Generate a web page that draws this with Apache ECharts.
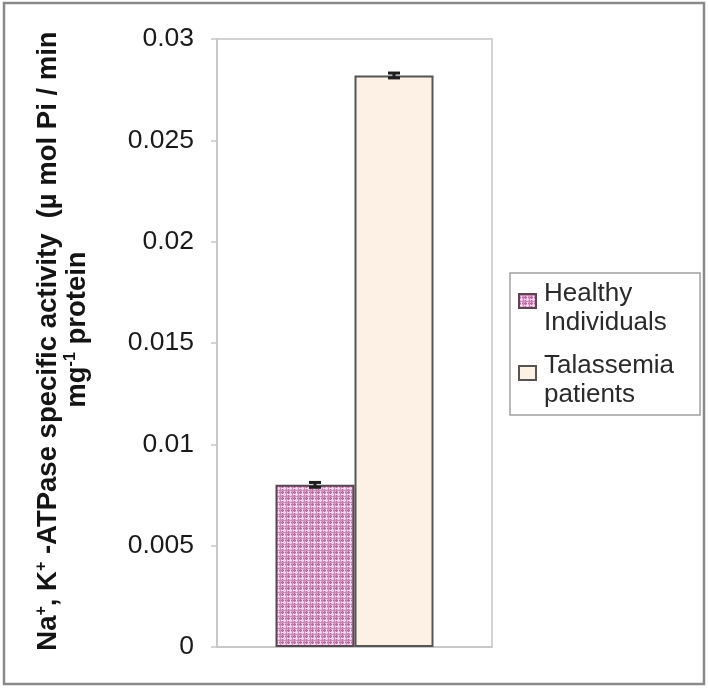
<!DOCTYPE html>
<html>
<head>
<meta charset="utf-8">
<script src="https://cdn.jsdelivr.net/npm/echarts@6/dist/echarts.min.js"></script>
<style>
html,body{margin:0;padding:0;background:#fff;}
#chart{width:708px;height:689px;}
</style>
</head>
<body>
<div id="chart"></div>
<script>
// ---- data ----
const categories = ['Na+, K+-ATPase'];
const seriesNames = ['Healthy Individuals', 'Talassemia patients'];
const healthyValues = [0.008];
const talassemiaValues = [0.0282];
const healthyErrors = [0.00012];
const talassemiaErrors = [0.00012];
const yMin = 0, yMax = 0.03, yInterval = 0.005;

// ---- styles ----
const BAR_W = 79;
const FONT = '"Liberation Sans", Arial, sans-serif';

function makePlaid() {
  const c = document.createElement('canvas');
  c.width = 6; c.height = 6;
  const g = c.getContext('2d');
  g.fillStyle = '#e2a6d0';
  g.fillRect(0, 0, 6, 6);
  g.fillStyle = '#b46c9c';
  g.fillRect(0, 0, 1, 6);
  g.fillRect(0, 0, 6, 1);
  g.fillStyle = '#f6d6ee';
  g.fillRect(2, 0, 1, 6);
  g.fillRect(0, 2, 6, 1);
  g.fillStyle = '#c98ab5';
  g.fillRect(4, 0, 1, 6);
  g.fillRect(0, 4, 6, 1);
  return c;
}
const plaid = { image: makePlaid(), repeat: 'repeat' };

const errData = [
  [0, healthyValues[0], healthyErrors[0], 0],
  [0, talassemiaValues[0], talassemiaErrors[0], 1]
];

const chart = echarts.init(document.getElementById('chart'), null, { renderer: 'canvas' });
chart.setOption({
  backgroundColor: '#ffffff',
  animation: false,
  graphic: [{
    type: 'rect',
    shape: { x: 4, y: 3, width: 700, height: 681 },
    style: { fill: 'none', stroke: '#8a8a8a', lineWidth: 2.5 },
    silent: true
  }],
  grid: {
    left: 217, top: 39, right: 216, bottom: 42,
    show: true, borderColor: '#d2d2d2', borderWidth: 2, backgroundColor: 'transparent'
  },
  legend: {
    data: seriesNames,
    orient: 'vertical',
    left: 510, top: 273,
    padding: [5, 26, 5, 8],
    borderColor: '#a0a0a0', borderWidth: 1.5,
    itemWidth: 17, itemHeight: 58, itemGap: 12,
    icon: 'path://M0,0 M17,58 M0,15 H17 V29 H0 Z',
    formatter: function (n) { return n.replace(' ', '\n'); },
    textStyle: { fontFamily: FONT, fontSize: 26, lineHeight: 29, color: '#2a2a2a', padding: [0, 0, 0, 3] },
    selectedMode: false
  },
  xAxis: {
    type: 'category',
    data: categories,
    axisLine: { show: true, lineStyle: { color: '#c8c8c8', width: 2 } },
    axisTick: { show: false },
    axisLabel: { show: false },
    splitLine: { show: false }
  },
  yAxis: {
    type: 'value',
    min: yMin, max: yMax, interval: yInterval,
    axisLine: { show: true, lineStyle: { color: '#c8c8c8', width: 2 } },
    axisTick: { show: true, length: 6, lineStyle: { color: '#c8c8c8', width: 1.5 } },
    splitLine: { show: false },
    axisLabel: { fontFamily: FONT, fontSize: 26.5, color: '#1a1a1a', margin: 23 },
    name: '{a|Na}{s|+}{a|, K}{s|+}{a| -ATPase specific activity  (µ mol Pi / min}\n{a|   mg}{s|-1}{a| protein}',
    nameLocation: 'middle',
    nameRotate: 90,
    nameGap: 125,
    nameTextStyle: {
      padding: [0, 0, 0, 4],
      rich: {
        a: { fontFamily: FONT, fontSize: 27.5, fontWeight: 'bold', color: '#141414', lineHeight: 29 },
        s: { fontFamily: FONT, fontSize: 16, fontWeight: 'bold', color: '#141414', lineHeight: 15, verticalAlign: 'top' }
      }
    }
  },
  series: [
    {
      name: seriesNames[0],
      type: 'bar',
      data: healthyValues,
      barWidth: BAR_W,
      barGap: '0%',
      itemStyle: { color: plaid, borderColor: '#5a4652', borderWidth: 2 }
    },
    {
      name: seriesNames[1],
      type: 'bar',
      data: talassemiaValues,
      barWidth: BAR_W,
      barGap: '0%',
      itemStyle: { color: '#fdf0e4', borderColor: '#555555', borderWidth: 2 }
    },
    {
      type: 'custom',
      silent: true,
      data: errData,
      encode: { x: 0, y: 1 },
      z: 5,
      renderItem: function (params, api) {
        const v = api.value(1), e = api.value(2), idx = api.value(3);
        const off = idx === 0 ? -BAR_W / 2 : BAR_W / 2;
        const hi = api.coord([0, v + e]);
        const lo = api.coord([0, v - e]);
        const x = hi[0] + off;
        const capW = 12;
        const st = { stroke: '#1e1e1e', lineWidth: 3, fill: 'none' };
        return {
          type: 'group',
          children: [
            { type: 'line', shape: { x1: x, y1: hi[1], x2: x, y2: lo[1] }, style: st },
            { type: 'line', shape: { x1: x - capW / 2, y1: hi[1], x2: x + capW / 2, y2: hi[1] }, style: st },
            { type: 'line', shape: { x1: x - capW / 2, y1: lo[1], x2: x + capW / 2, y2: lo[1] }, style: st }
          ]
        };
      }
    }
  ]
});
</script>
</body>
</html>
